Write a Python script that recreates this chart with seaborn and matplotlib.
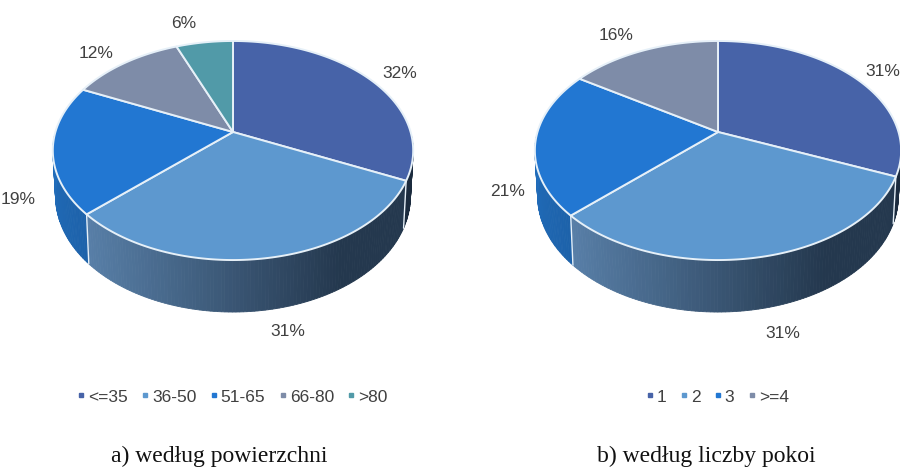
import numpy as np
import matplotlib.pyplot as plt
from matplotlib.lines import Line2D
from matplotlib.colors import to_rgb
import seaborn as sns

# data
area_labels = ["<=35", "36-50", "51-65", "66-80", ">80"]
area_values = [32, 31, 19, 12, 6]
room_labels = ["1", "2", "3", ">=4"]
room_values = [31.4, 31.4, 21.4, 15.8]

sns.set_theme(style="white")
plt.rcParams["font.family"] = ["Liberation Sans", "DejaVu Sans"]

top_colors = sns.color_palette(["#4763a8", "#5d98cf", "#2277d2", "#7e8ca8", "#519aa8"])
text_color = "#404040"
edge_color = "#e6f0f8"

# wall colours, left -> right of each slice front
wall_ramps = {0: ("#1b2b3e", "#1b2b3e"),
              1: ("#587fa8", "#24384e"),
              2: ("#1d62aa", "#2270c0")}

# perspective of the tilted disc
RY, TILT = 106.4, 0.169
APEX_Y = 132


def project(theta, cx, rx):
    """theta in degrees, clockwise from 12 o'clock -> pixel position on the rim"""
    t = np.radians(theta)
    w = 1 + TILT * np.cos(t)
    return cx + rx * np.sin(t) / w, APEX_Y - RY * np.cos(t) / w


def wall_bottom(theta, cx, rx):
    x, y = project(theta, cx, rx)
    drop = 44 - 8 * np.cos(np.radians(theta))
    return cx + (x - cx) * 0.985, y + drop


def mix(c1, c2, f):
    f = np.clip(f, 0, 1)
    return tuple((1 - f) * a + f * b for a, b in zip(to_rgb(c1), to_rgb(c2)))


def draw_pie(ax, x0, values, labels, cx, rx, label_xy, legend_center, caption, caption_x):
    ax.set_xlim(x0, x0 + 450)
    ax.set_ylim(469, 0)
    ax.axis("off")

    edges = np.concatenate([[0], np.cumsum(values)]) / np.sum(values) * 360

    # side wall, drawn back to front as thin strips
    x_left, _ = project(edges[2], cx, rx)
    for i in range(3):
        start, stop = max(edges[i], 92), min(edges[i + 1], 268)
        for th in np.arange(start, stop, 1.0):
            th2 = min(th + 1.0, stop)
            xa, ya = project(th, cx, rx)
            xb, yb = project(th2, cx, rx)
            xc, yc = wall_bottom(th2, cx, rx)
            xd, yd = wall_bottom(th, cx, rx)
            if i == 1:
                col = mix(wall_ramps[1][0], wall_ramps[1][1], (xa - x_left) / 255)
            elif i == 0:
                col = wall_ramps[0][0]
            else:
                col = mix(wall_ramps[2][0], wall_ramps[2][1], (th - start) / 50)
            ax.fill([xa, xb, xc, xd], [ya, yb, yc, yd], color=col, lw=0.6, zorder=2)

    # light seams on the wall
    for th in edges[1:3]:
        xa, ya = project(th, cx, rx)
        xd, yd = wall_bottom(th, cx, rx)
        ax.plot([xa, xd], [ya, yd], color=edge_color, lw=1.0, zorder=3)

    # top face
    for i in range(len(values)):
        th = np.linspace(edges[i], edges[i + 1], 120)
        xs, ys = project(th, cx, rx)
        ax.fill(np.r_[cx, xs], np.r_[APEX_Y, ys], facecolor=top_colors[i],
                edgecolor=edge_color, lw=1.4, joinstyle="round", zorder=4)

    for v, (x, y) in zip(values, label_xy):
        ax.text(x, y, f"{v:.0f}%", ha="center", va="center", fontsize=12.5,
                color=text_color)

    handles = [Line2D([], [], ls="none", marker="s", ms=3.4, color=top_colors[i])
               for i in range(len(labels))]
    ax.legend(handles, labels, ncols=len(labels), loc="center", frameon=False,
              bbox_to_anchor=legend_center, bbox_transform=ax.transData,
              fontsize=12.5, labelcolor=text_color, handlelength=0.3,
              handletextpad=0.25, columnspacing=0.85,
              borderpad=0, borderaxespad=0)

    ax.text(caption_x, 456, caption, ha="center", va="center", fontsize=17,
            family=["Liberation Serif", "DejaVu Serif"], color="#111111")


fig = plt.figure(figsize=(9, 4.69), dpi=100, facecolor="white")
ax_a = fig.add_axes([0, 0, 0.5, 1])
ax_b = fig.add_axes([0.5, 0, 0.5, 1])

draw_pie(ax_a, 0, area_values, area_labels, 233, 177.6,
         [(400, 74), (288, 331), (18, 199), (96, 53), (184, 24)],
         (233, 397), "a) według powierzchni", 219)
draw_pie(ax_b, 450, room_values, room_labels, 718, 180.5,
         [(883, 71), (783, 333), (508, 192), (616, 35)],
         (718, 397), "b) według liczby pokoi", 706)

fig.savefig("out.png", dpi=100)
